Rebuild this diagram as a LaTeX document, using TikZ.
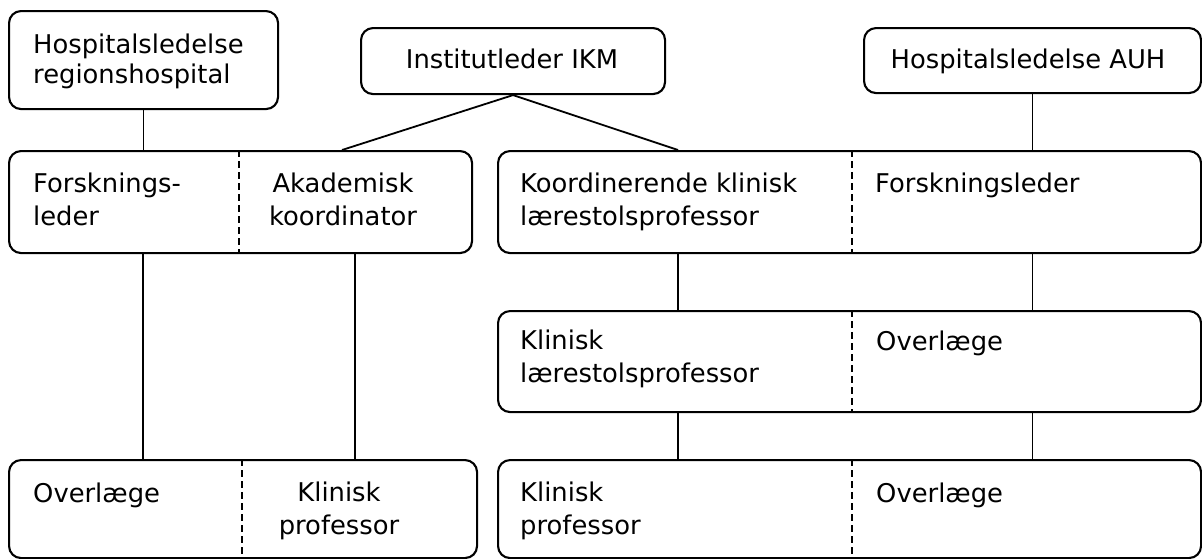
\documentclass[tikz,border=0pt]{standalone}
\usepackage{fontspec}
\setmainfont{DejaVu Sans}
\usetikzlibrary{calc}
\begin{document}
\begin{tikzpicture}[x=1pt,y=-1pt,
  box/.style={draw,line width=2.1pt,rounded corners=12pt,inner sep=0pt,anchor=north west},
  lbl/.style={anchor=base west,inner sep=0pt,align=left,font=\fontsize{25.8}{32.5}\selectfont},
  clbl/.style={lbl,anchor=base,align=center},
  divider/.style={line width=1.5pt,dash pattern=on 7pt off 4pt},
  conn/.style={line width=1.8pt}]
\useasboundingbox (0,0) rectangle (1202,558);
% boxes
\node[box,minimum width=269pt,minimum height=98pt] (hra) at (8,10) {};
\node[box,minimum width=304pt,minimum height=66pt] (ikm) at (360,27) {};
\node[box,minimum width=337pt,minimum height=65pt] (auh) at (863,27) {};
\node[box,minimum width=463pt,minimum height=102pt] (r2l) at (8,150) {};
\node[box,minimum width=703pt,minimum height=102pt] (r2r) at (497,150) {};
\node[box,minimum width=703pt,minimum height=101pt] (r3) at (497,310) {};
\node[box,minimum width=468pt,minimum height=98pt] (r4l) at (8,459) {};
\node[box,minimum width=703pt,minimum height=98pt] (r4r) at (497,459) {};
% dividers
\draw[divider] ([xshift=231pt]r2l.north west) -- ([xshift=231pt]r2l.south west);
\draw[divider] ([xshift=234pt]r4l.north west) -- ([xshift=234pt]r4l.south west);
\draw[divider] ([xshift=355pt]r2r.north west) -- ([xshift=355pt]r2r.south west);
\draw[divider] ([xshift=355pt]r3.north west) -- ([xshift=355pt]r3.south west);
\draw[divider] ([xshift=355pt]r4r.north west) -- ([xshift=355pt]r4r.south west);
% texts (multi-line nodes: base = baseline of last line)
\node[lbl,font=\fontsize{25.8}{30}\selectfont] (t-hra) at (33,83.3) {Hospitalsledelse\\regionshospital};
\node[clbl] (t-ikm) at (512,68) {Institutleder IKM};
\node[clbl] (t-auh) at (1028,68) {Hospitalsledelse AUH};
\node[lbl] (t-fl) at (33,225) {Forsknings-\\leder};
\node[clbl] (t-ak) at (343,225) {Akademisk\\koordinator};
\node[lbl] (t-kk) at (520,225) {Koordinerende klinisk\\lærestolsprofessor};
\node[lbl] (t-fl2) at (875,192.5) {Forskningsleder};
\node[lbl] (t-kl) at (520,382) {Klinisk\\lærestolsprofessor};
\node[lbl] (t-ol) at (876,350) {Overlæge};
\node[lbl] (t-ol2) at (33,502) {Overlæge};
\node[clbl] (t-kp) at (339,534) {Klinisk\\professor};
\node[lbl] (t-kp2) at (520,534) {Klinisk\\professor};
\node[lbl] (t-ol3) at (876,502) {Overlæge};
% connectors
\draw[conn] (hra.south) -- (hra.south |- r2l.north);
\draw[conn] (ikm.south) -- ([xshift=334pt]r2l.north west);
\draw[conn] (ikm.south) -- ([xshift=181pt]r2r.north west);
\draw[conn] (auh.south) -- (auh.south |- r2r.north);
\draw[conn] ([xshift=135pt]r2l.south west) -- ([xshift=135pt]r4l.north west);
\draw[conn] ([xshift=347pt]r2l.south west) -- ([xshift=347pt]r4l.north west);
\draw[conn] ([xshift=181pt]r2r.south west) -- ([xshift=181pt]r3.north west);
\draw[conn] (auh.south |- r2r.south) -- (auh.south |- r3.north);
\draw[conn] ([xshift=181pt]r3.south west) -- ([xshift=181pt]r4r.north west);
\draw[conn] (auh.south |- r3.south) -- (auh.south |- r4r.north);
\end{tikzpicture}
\end{document}
